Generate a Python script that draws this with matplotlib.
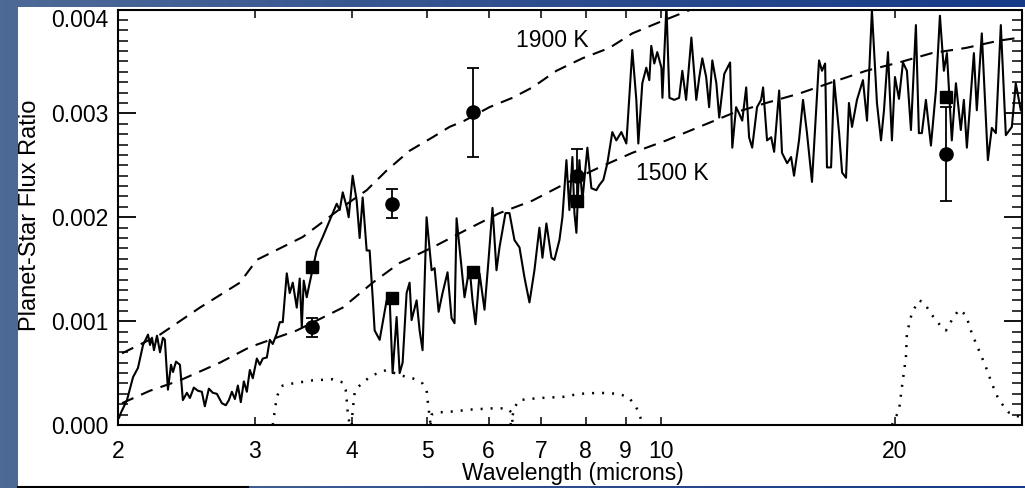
import numpy as np
import matplotlib
matplotlib.use("Agg")
import matplotlib.pyplot as plt
from matplotlib.colors import LinearSegmentedColormap
from matplotlib.patches import Rectangle
from matplotlib.lines import Line2D
from matplotlib.transforms import ScaledTranslation

plt.rcParams['font.family'] = ['Liberation Sans', 'DejaVu Sans']

# measured spectrum (wavelength in microns, flux ratio in units of 1e-3)
spec_wl = [2.006, 2.018, 2.054, 2.091, 2.122, 2.154, 2.186, 2.199, 2.212, 2.225,
           2.245, 2.265, 2.285, 2.298, 2.319, 2.340, 2.354, 2.375, 2.403, 2.424,
           2.453, 2.475, 2.504, 2.534, 2.564, 2.587, 2.618, 2.649, 2.681, 2.721,
           2.753, 2.778, 2.803, 2.828, 2.853, 2.878, 2.904, 2.930, 2.956, 2.982,
           3.018, 3.045, 3.072, 3.109, 3.136, 3.164, 3.202, 3.230, 3.259, 3.298,
           3.327, 3.357, 3.397, 3.427, 3.448, 3.468, 3.499, 3.530, 3.604, 3.669,
           3.746, 3.824, 3.858, 3.893, 3.939, 3.962, 4.009, 4.057, 4.093, 4.130,
           4.179, 4.216, 4.254, 4.279, 4.343, 4.434, 4.473, 4.513, 4.567, 4.608,
           4.649, 4.704, 4.746, 4.774, 4.846, 4.889, 4.932, 4.991, 5.066, 5.111,
           5.172, 5.233, 5.311, 5.374, 5.422, 5.455, 5.536, 5.585, 5.669, 5.719,
           5.770, 5.839, 5.926, 5.997, 6.068, 6.140, 6.195, 6.306, 6.381, 6.476,
           6.573, 6.671, 6.770, 6.871, 6.973, 7.036, 7.119, 7.226, 7.290, 7.399,
           7.465, 7.554, 7.621, 7.689, 7.735, 7.781, 7.850, 7.920, 8.038, 8.134,
           8.255, 8.329, 8.428, 8.528, 8.655, 8.758, 8.889, 9.022, 9.183, 9.293,
           9.348, 9.459, 9.572, 9.657, 9.714, 9.801, 9.888, 10.01, 10.04, 10.16,
           10.25, 10.40, 10.55, 10.65, 10.77, 10.94, 11.10, 11.20,
           11.30, 11.43, 11.53, 11.64, 11.78, 11.88, 12.06, 12.27, 12.35, 12.49,
           12.60, 12.72, 12.87, 12.98, 13.10, 13.29, 13.45, 13.53, 13.69, 13.86,
           13.98, 14.19, 14.31, 14.53, 14.70, 14.83, 15.05, 15.23, 15.41, 15.64,
           15.97, 16.11, 16.26, 16.35, 16.55, 16.70, 16.95, 17.10, 17.30, 17.45,
           17.61, 17.87, 18.19, 18.41, 18.68, 18.96, 19.19, 19.36, 19.59, 19.82,
           20.00, 20.24, 20.48, 20.72, 20.97, 21.28, 21.47, 21.66, 21.92, 22.25,
           22.58, 22.85, 23.12, 23.33, 23.67, 23.96, 24.31, 24.53, 24.75, 25.27,
           25.49, 25.87, 26.34, 26.65, 26.97, 27.37, 27.78, 28.28, 28.61, 29.04]
spec_flux = [0.07, 0.12, 0.24, 0.46, 0.55, 0.77, 0.87, 0.77, 0.84, 0.72,
             0.86, 0.70, 0.84, 0.82, 0.34, 0.58, 0.51, 0.61, 0.58, 0.24,
             0.31, 0.26, 0.36, 0.33, 0.32, 0.18, 0.35, 0.31, 0.30, 0.21,
             0.19, 0.24, 0.32, 0.25, 0.38, 0.22, 0.42, 0.32, 0.53, 0.45,
             0.64, 0.58, 0.64, 0.65, 0.82, 0.78, 0.88, 0.99, 0.99, 1.46,
             1.27, 1.37, 1.13, 1.41, 0.94, 1.39, 1.23, 1.37, 1.68, 1.81,
             1.97, 2.13, 2.07, 2.24, 2.10, 2.00, 2.40, 2.16, 1.80, 2.19,
             1.68, 1.68, 1.23, 0.91, 0.82, 1.20, 1.23, 0.50, 1.04, 0.50,
             0.60, 1.27, 1.37, 1.01, 1.20, 0.91, 0.72, 2.00, 1.49, 1.51,
             1.09, 1.27, 1.47, 1.03, 0.98, 1.99, 1.52, 1.23, 1.52, 1.20,
             0.97, 1.46, 1.11, 1.59, 2.09, 1.49, 1.71, 2.04, 2.04, 1.78,
             1.71, 1.42, 1.18, 1.49, 1.90, 1.61, 1.94, 1.61, 1.59, 1.78,
             2.00, 2.55, 2.07, 2.58, 2.04, 1.85, 2.55, 2.16, 2.67, 2.28,
             2.26, 2.31, 2.36, 2.52, 2.82, 2.74, 2.82, 2.71, 3.61, 3.13,
             2.71, 3.29, 3.44, 3.32, 3.65, 3.48, 3.59, 3.44, 3.15, 4.04,
             3.15, 3.13, 3.15, 3.41, 3.13, 3.73, 3.13, 3.35,
             3.53, 3.35, 3.06, 3.51, 3.29, 2.96, 3.38, 3.49, 2.67, 3.06,
             3.00, 2.93, 3.25, 2.77, 2.67, 3.06, 3.13, 3.25, 2.74, 2.77,
             2.63, 3.22, 2.62, 2.52, 2.58, 2.40, 2.74, 3.13, 2.81, 2.34,
             3.51, 3.41, 3.48, 2.48, 2.48, 3.32, 2.81, 2.43, 2.38, 3.10,
             2.87, 3.13, 3.32, 2.93, 3.99, 3.10, 2.74, 3.03, 3.59, 2.74,
             3.35, 3.14, 3.49, 3.41, 2.84, 3.85, 2.81, 2.81, 3.13, 2.69,
             3.22, 3.94, 3.41, 3.58, 2.74, 3.29, 2.84, 3.13, 2.67, 3.58,
             3.03, 3.77, 2.55, 2.86, 2.81, 3.85, 2.79, 2.87, 3.29, 3.03]

# model curves
hot_wl = [2.024, 2.265, 2.549, 2.870, 3.018, 3.458, 3.893, 4.179, 4.434, 4.746,
          5.081, 5.343, 5.585, 6.014, 6.438, 6.830, 7.333, 7.920, 8.579, 9.183,
          10.04, 11.10]
hot_flux = [0.69, 0.87, 1.13, 1.37, 1.59, 1.81, 2.10, 2.26, 2.45, 2.64,
            2.77, 2.87, 2.93, 3.06, 3.15, 3.25, 3.41, 3.53, 3.63, 3.77,
            3.89, 4.02]
cool_wl = [2.024, 2.199, 2.403, 2.705, 2.956, 3.397, 3.893, 4.254, 4.608, 5.081,
           5.618, 6.195, 6.830, 7.554, 8.329, 9.183, 10.16, 11.20, 12.35, 13.65,
           15.05, 16.60, 18.36, 20.24, 22.31, 24.68, 27.21, 29.0]
cool_flux = [0.21, 0.33, 0.43, 0.60, 0.75, 0.91, 1.13, 1.37, 1.56, 1.71,
             1.88, 2.04, 2.16, 2.33, 2.48, 2.62, 2.74, 2.87, 3.00, 3.10,
             3.19, 3.30, 3.41, 3.49, 3.58, 3.63, 3.70, 3.73]

# photometry: observed (circles) and band-integrated model (squares)
band_wl = [3.55, 4.50, 5.72, 7.80, 23.3]
obs_flux = [0.94, 2.13, 3.01, 2.40, 2.61]
obs_err = [0.09, 0.14, 0.43, 0.26, 0.45]
model_flux = [1.52, 1.22, 1.47, 2.16, 3.16]

# filter response curves (arbitrary scaling)
f36_wl = [3.164, 3.183, 3.202, 3.230, 3.259, 3.357, 3.562, 3.779, 3.893, 3.927, 3.939, 3.951, 3.974]
f36_r = [0.0, 0.14, 0.27, 0.34, 0.38, 0.40, 0.43, 0.44, 0.41, 0.34, 0.24, 0.12, 0.0]
f45_wl = [3.998, 4.009, 4.033, 4.069, 4.130, 4.254, 4.434, 4.608, 4.789, 4.932, 4.991, 5.006, 5.036, 5.051]
f45_r = [0.0, 0.14, 0.31, 0.36, 0.41, 0.48, 0.53, 0.48, 0.45, 0.40, 0.34, 0.24, 0.08, 0.0]
f58_wl = [5.051, 5.066, 5.141, 5.390, 5.719, 6.068, 6.343, 6.419, 6.438, 6.457]
f58_r = [0.0, 0.10, 0.12, 0.13, 0.15, 0.16, 0.16, 0.12, 0.03, 0.0]
f80_wl = [6.40, 6.476, 6.573, 6.973, 7.465, 7.850, 8.329, 8.836, 9.102, 9.293, 9.431, 9.459]
f80_r = [0.0, 0.17, 0.24, 0.26, 0.27, 0.30, 0.31, 0.30, 0.26, 0.17, 0.05, 0.0]
f24_wl = [19.82, 20.24, 20.42, 20.66, 20.72, 21.03, 21.47, 21.79, 22.31, 22.98,
          23.26, 23.67, 24.17, 24.68, 25.12, 25.65, 26.18, 26.65, 27.21, 28.03, 28.87]
f24_r = [0.0, 0.14, 0.37, 0.65, 0.88, 1.08, 1.20, 1.18, 1.06, 0.94,
         0.91, 1.01, 1.11, 1.06, 0.88, 0.72, 0.56, 0.40, 0.24, 0.12, 0.08]

x_ticks = [2, 3, 4, 5, 6, 7, 8, 9, 10, 20]
y_ticks = [0.0, 0.001, 0.002, 0.003, 0.004]

s = 1e-3

fig = plt.figure(figsize=(10.25, 4.88), dpi=100)

# slide background
bg = fig.add_axes([0, 0, 1, 1], zorder=-10)
cmap = LinearSegmentedColormap.from_list('slide', ['#4d6a97', '#2f4f8e', '#173a88'])
bg.imshow(np.linspace(0, 1, 256)[None, :], extent=[0, 1, 0, 1], aspect='auto', cmap=cmap)
bg.add_patch(Rectangle((18 / 1025, 2 / 488), 1 - 18 / 1025, 479 / 488, color='white', lw=0))
bg.add_line(Line2D([18 / 1025, 248 / 1025], [1.5 / 488, 1.5 / 488], color='black', lw=1.5))
bg.set_xlim(0, 1)
bg.set_ylim(0, 1)
bg.axis('off')

ax = fig.add_axes([118 / 1025, 63 / 488, 903.5 / 1025, 415.5 / 488])
ax.set_facecolor('white')

ax.plot(spec_wl, np.array(spec_flux) * s, color='black', lw=1.5, zorder=3)
ax.plot(hot_wl, np.array(hot_flux) * s, color='black', lw=1.5, dashes=(6, 4), zorder=2)
ax.plot(cool_wl, np.array(cool_flux) * s, color='black', lw=1.5, dashes=(6, 4), zorder=2)
for wl, r in [(f36_wl, f36_r), (f45_wl, f45_r), (f58_wl, f58_r), (f80_wl, f80_r), (f24_wl, f24_r)]:
    ax.plot(wl, np.array(r) * s, color='black', lw=1.8, dashes=(0.8, 3.2), zorder=2)

ax.errorbar(band_wl, np.array(obs_flux) * s, yerr=np.array(obs_err) * s, fmt='o',
            color='black', ms=9.5, capsize=4, elinewidth=1.3, capthick=1.3, zorder=5)
ax.plot(band_wl, np.array(model_flux) * s, 's', color='black', ms=8.5, zorder=5)

ax.text(6.51, 3.70 * s, '1900 K', fontsize=16.5, ha='left', va='center')
ax.text(9.29, 2.42 * s, '1500 K', fontsize=16.5, ha='left', va='center')

ax.set_xscale('log')
ax.set_xlim(2, 29.1)
ax.set_ylim(0, 0.004)
ax.xaxis.set_major_locator(matplotlib.ticker.FixedLocator(x_ticks))
ax.xaxis.set_minor_locator(matplotlib.ticker.NullLocator())
ax.set_xticklabels([str(t) for t in x_ticks])
ax.set_yticks(y_ticks)
ax.set_yticklabels(['%.3f' % t for t in y_ticks])
ax.yaxis.set_minor_locator(matplotlib.ticker.MultipleLocator(0.0001))

for sp in ax.spines.values():
    sp.set_linewidth(1.5)
ax.tick_params(axis='x', which='both', direction='in', top=True, length=5.8, width=1.1,
               labelsize=16.5, pad=10.5)
ax.tick_params(axis='y', which='major', direction='in', right=True, length=13, width=1.3,
               labelsize=16.5, pad=7)
ax.tick_params(axis='y', which='minor', direction='in', right=True, length=7, width=1.1)

# top label sits a little lower, below the slide's title band
top_lab = ax.get_yticklabels()[-1]
top_lab.set_transform(top_lab.get_transform() + ScaledTranslation(0, -6 / 72, fig.dpi_scale_trans))

ax.set_xlabel('Wavelength (microns)', fontsize=16.5, va='center')
ax.xaxis.set_label_coords(0.503, -0.117)
ax.set_ylabel('Planet-Star Flux Ratio', fontsize=17, va='center', ha='center')
ax.yaxis.set_label_coords(-0.097, 0.505)

fig.savefig('out.png', dpi=100)
